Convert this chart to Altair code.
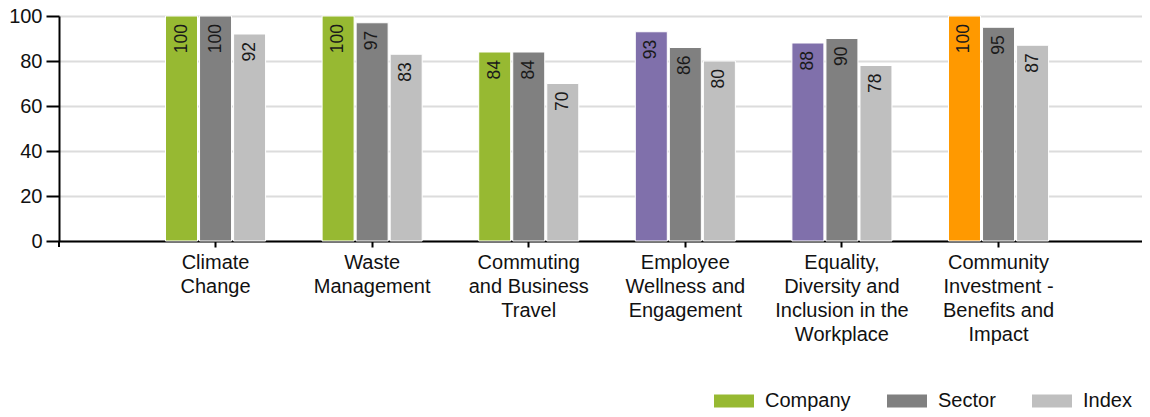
import altair as alt
import pandas as pd

categories = [
    "Climate|Change",
    "Waste|Management",
    "Commuting|and Business|Travel",
    "Employee|Wellness and|Engagement",
    "Equality,|Diversity and|Inclusion in the|Workplace",
    "Community|Investment -|Benefits and|Impact",
]
series = ["Company", "Sector", "Index"]
company = [100, 100, 84, 93, 88, 100]
sector = [100, 97, 84, 86, 90, 95]
index_vals = [92, 83, 70, 80, 78, 87]
company_keys = ["Company", "Company", "Company", "Company2", "Company2", "Company3"]

color_domain = ["Company", "Sector", "Index", "Company2", "Company3"]
color_range = ["#97B932", "#808080", "#BFBFBF", "#8070AB", "#FF9900"]

rows = []
for i, c in enumerate(categories):
    rows.append(dict(cat=c, series="Company", value=company[i], ckey=company_keys[i]))
    rows.append(dict(cat=c, series="Sector", value=sector[i], ckey="Sector"))
    rows.append(dict(cat=c, series="Index", value=index_vals[i], ckey="Index"))
df = pd.DataFrame(rows)

W, H = 1083, 225
FONT = "Liberation Sans"

x_enc = alt.X(
    "cat:N",
    sort=categories,
    scale=alt.Scale(paddingInner=0.361, paddingOuter=0.6384, align=0.5327, round=False),
    axis=alt.Axis(
        title=None,
        labelExpr="split(datum.label, '|')",
        labelAngle=0,
        labelFontSize=20,
        labelLineHeight=24,
        labelPadding=5,
        labelColor="#111111",
        labelBaseline="top",
        domainColor="#000000",
        domainWidth=2,
        tickColor="#000000",
        tickWidth=2,
        tickSize=6,
        grid=False,
    ),
)
xoff = alt.XOffset("series:N", sort=series, scale=alt.Scale(paddingInner=0.06))
y_enc = alt.Y(
    "value:Q",
    scale=alt.Scale(domain=[0, 100], nice=False),
    axis=alt.Axis(
        title=None,
        values=[0, 20, 40, 60, 80, 100],
        labelFontSize=20,
        labelPadding=4,
        labelColor="#111111",
        domainColor="#000000",
        domainWidth=2,
        tickColor="#000000",
        tickWidth=2,
        tickSize=13,
        grid=True,
        gridColor="#DCDCDC",
        gridWidth=1.8,
    ),
)

base = alt.Chart(df)

bars = base.mark_bar(stroke="white", strokeWidth=1).encode(
    x=x_enc,
    xOffset=xoff,
    y=y_enc,
    color=alt.Color(
        "ckey:N",
        scale=alt.Scale(domain=color_domain, range=color_range),
        legend=alt.Legend(
            title=None,
            values=series,
            orient="none",
            direction="horizontal",
            legendX=655,
            legendY=365,
            symbolType="M-1,-0.33H1V0.33H-1Z",
            symbolSize=1600,
            symbolStrokeWidth=0,
            labelFontSize=20,
            labelOffset=11,
            columnPadding=36,
            labelColor="#111111",
            padding=0,
        ),
    ),
)

labels = base.mark_text(
    angle=270, align="right", baseline="middle", dx=-8, fontSize=17.5, color="#1a1a1a", font=FONT
).encode(
    x=alt.X("cat:N", sort=categories),
    xOffset=alt.XOffset("series:N", sort=series),
    y=alt.Y("value:Q"),
    text=alt.Text("value:Q"),
)

ext = alt.Chart(pd.DataFrame({"a": [0]})).mark_rule(color="black", strokeWidth=2).encode(
    x=alt.value(0), y=alt.value(H), y2=alt.value(H + 6)
)

chart = (
    alt.layer(bars, labels, ext)
    .properties(
        width=W,
        height=H,
        autosize=alt.AutoSizeParams(type="none"),
        padding={"left": 51, "top": 8, "right": 0, "bottom": 174},
    )
    .configure(font=FONT)
    .configure_view(stroke=None)
)

chart.save("out.html", embed_options={"renderer": "svg", "actions": False})
